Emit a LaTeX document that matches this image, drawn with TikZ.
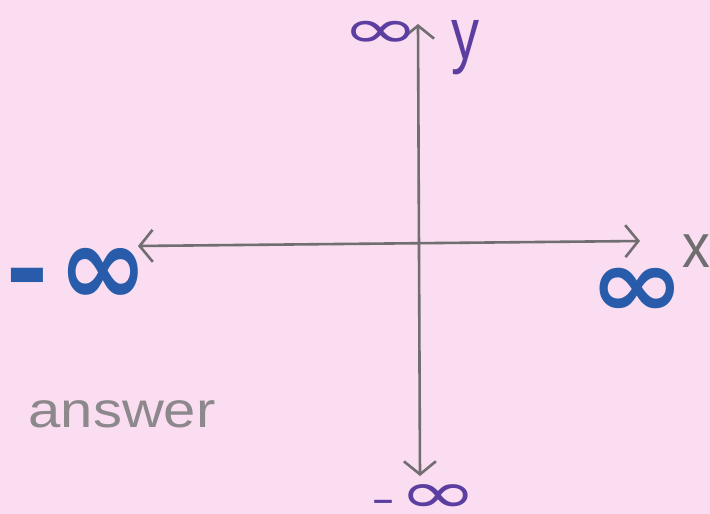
\documentclass[tikz,border=0pt]{standalone}
\usepackage{fontspec}
\setmainfont{Liberation Sans}
\newfontfamily\inffont{DejaVu Sans}
\usetikzlibrary{arrows.meta}
\definecolor{paper}{RGB}{250,221,240}
\definecolor{pencil}{RGB}{112,110,112}
\definecolor{lightpencil}{RGB}{140,136,140}
\definecolor{inkpurple}{RGB}{92,62,160}
\definecolor{inkblue}{RGB}{40,92,170}
\begin{document}
\begin{tikzpicture}[x=1pt,y=-1pt,
  axis/.style={draw=pencil,line width=2.6pt,line cap=round,
    {Straight Barb[length=13pt,width=32pt,line width=2.6pt]}-{Straight Barb[length=13pt,width=32pt,line width=2.6pt]}},
  purpleinf/.style={text=inkpurple,inner sep=0pt,font=\inffont\fontsize{70}{70}\selectfont},
  blueinf/.style={text=inkblue,inner sep=0pt,font=\inffont\bfseries\fontsize{78}{78}\selectfont},
  lbl/.style={inner sep=0pt}]
\useasboundingbox[fill=paper] (0,0) rectangle (710,514);
% axes
\coordinate (L) at (138,246);
\coordinate (R) at (640,241);
\coordinate (T) at (418,24);
\coordinate (B) at (420,476);
\draw[axis] (L) -- (R);
\draw[axis] (B) -- (T);
% labels
\node[purpleinf] (topinf) at (381,35) {\scalebox{1.35}[0.8]{∞}};
\node[lbl,text=inkpurple,font=\fontsize{66}{66}\selectfont] (ylab) at (466,48) {\scalebox{0.85}[1.12]{y}};
\node[lbl,text=pencil,font=\fontsize{62}{62}\selectfont] (xlab) at (696,251) {\scalebox{0.9}[1]{x}};
\node[purpleinf] (botinf) at (438,499) {\scalebox{1.37}[0.85]{∞}};
\node[lbl,text=inkpurple,font=\fontsize{40}{40}\selectfont] (botdash) at (383,506) {\scalebox{1.8}[1]{-}};
\node[blueinf] (leftinf) at (103,277) {\scalebox{1.38}[1.45]{∞}};
\node[lbl,text=inkblue,font=\fontsize{60}{60}\selectfont\bfseries] (leftdash) at (27,287) {\scalebox{2.1}[2.0]{-}};
\node[blueinf] (rightinf) at (637,293) {\scalebox{1.47}[1.25]{∞}};
\node[lbl,text=lightpencil,font=\fontsize{50}{50}\selectfont] (ans) at (122,414) {\scalebox{1.16}[1]{answer}};
\end{tikzpicture}
\end{document}
